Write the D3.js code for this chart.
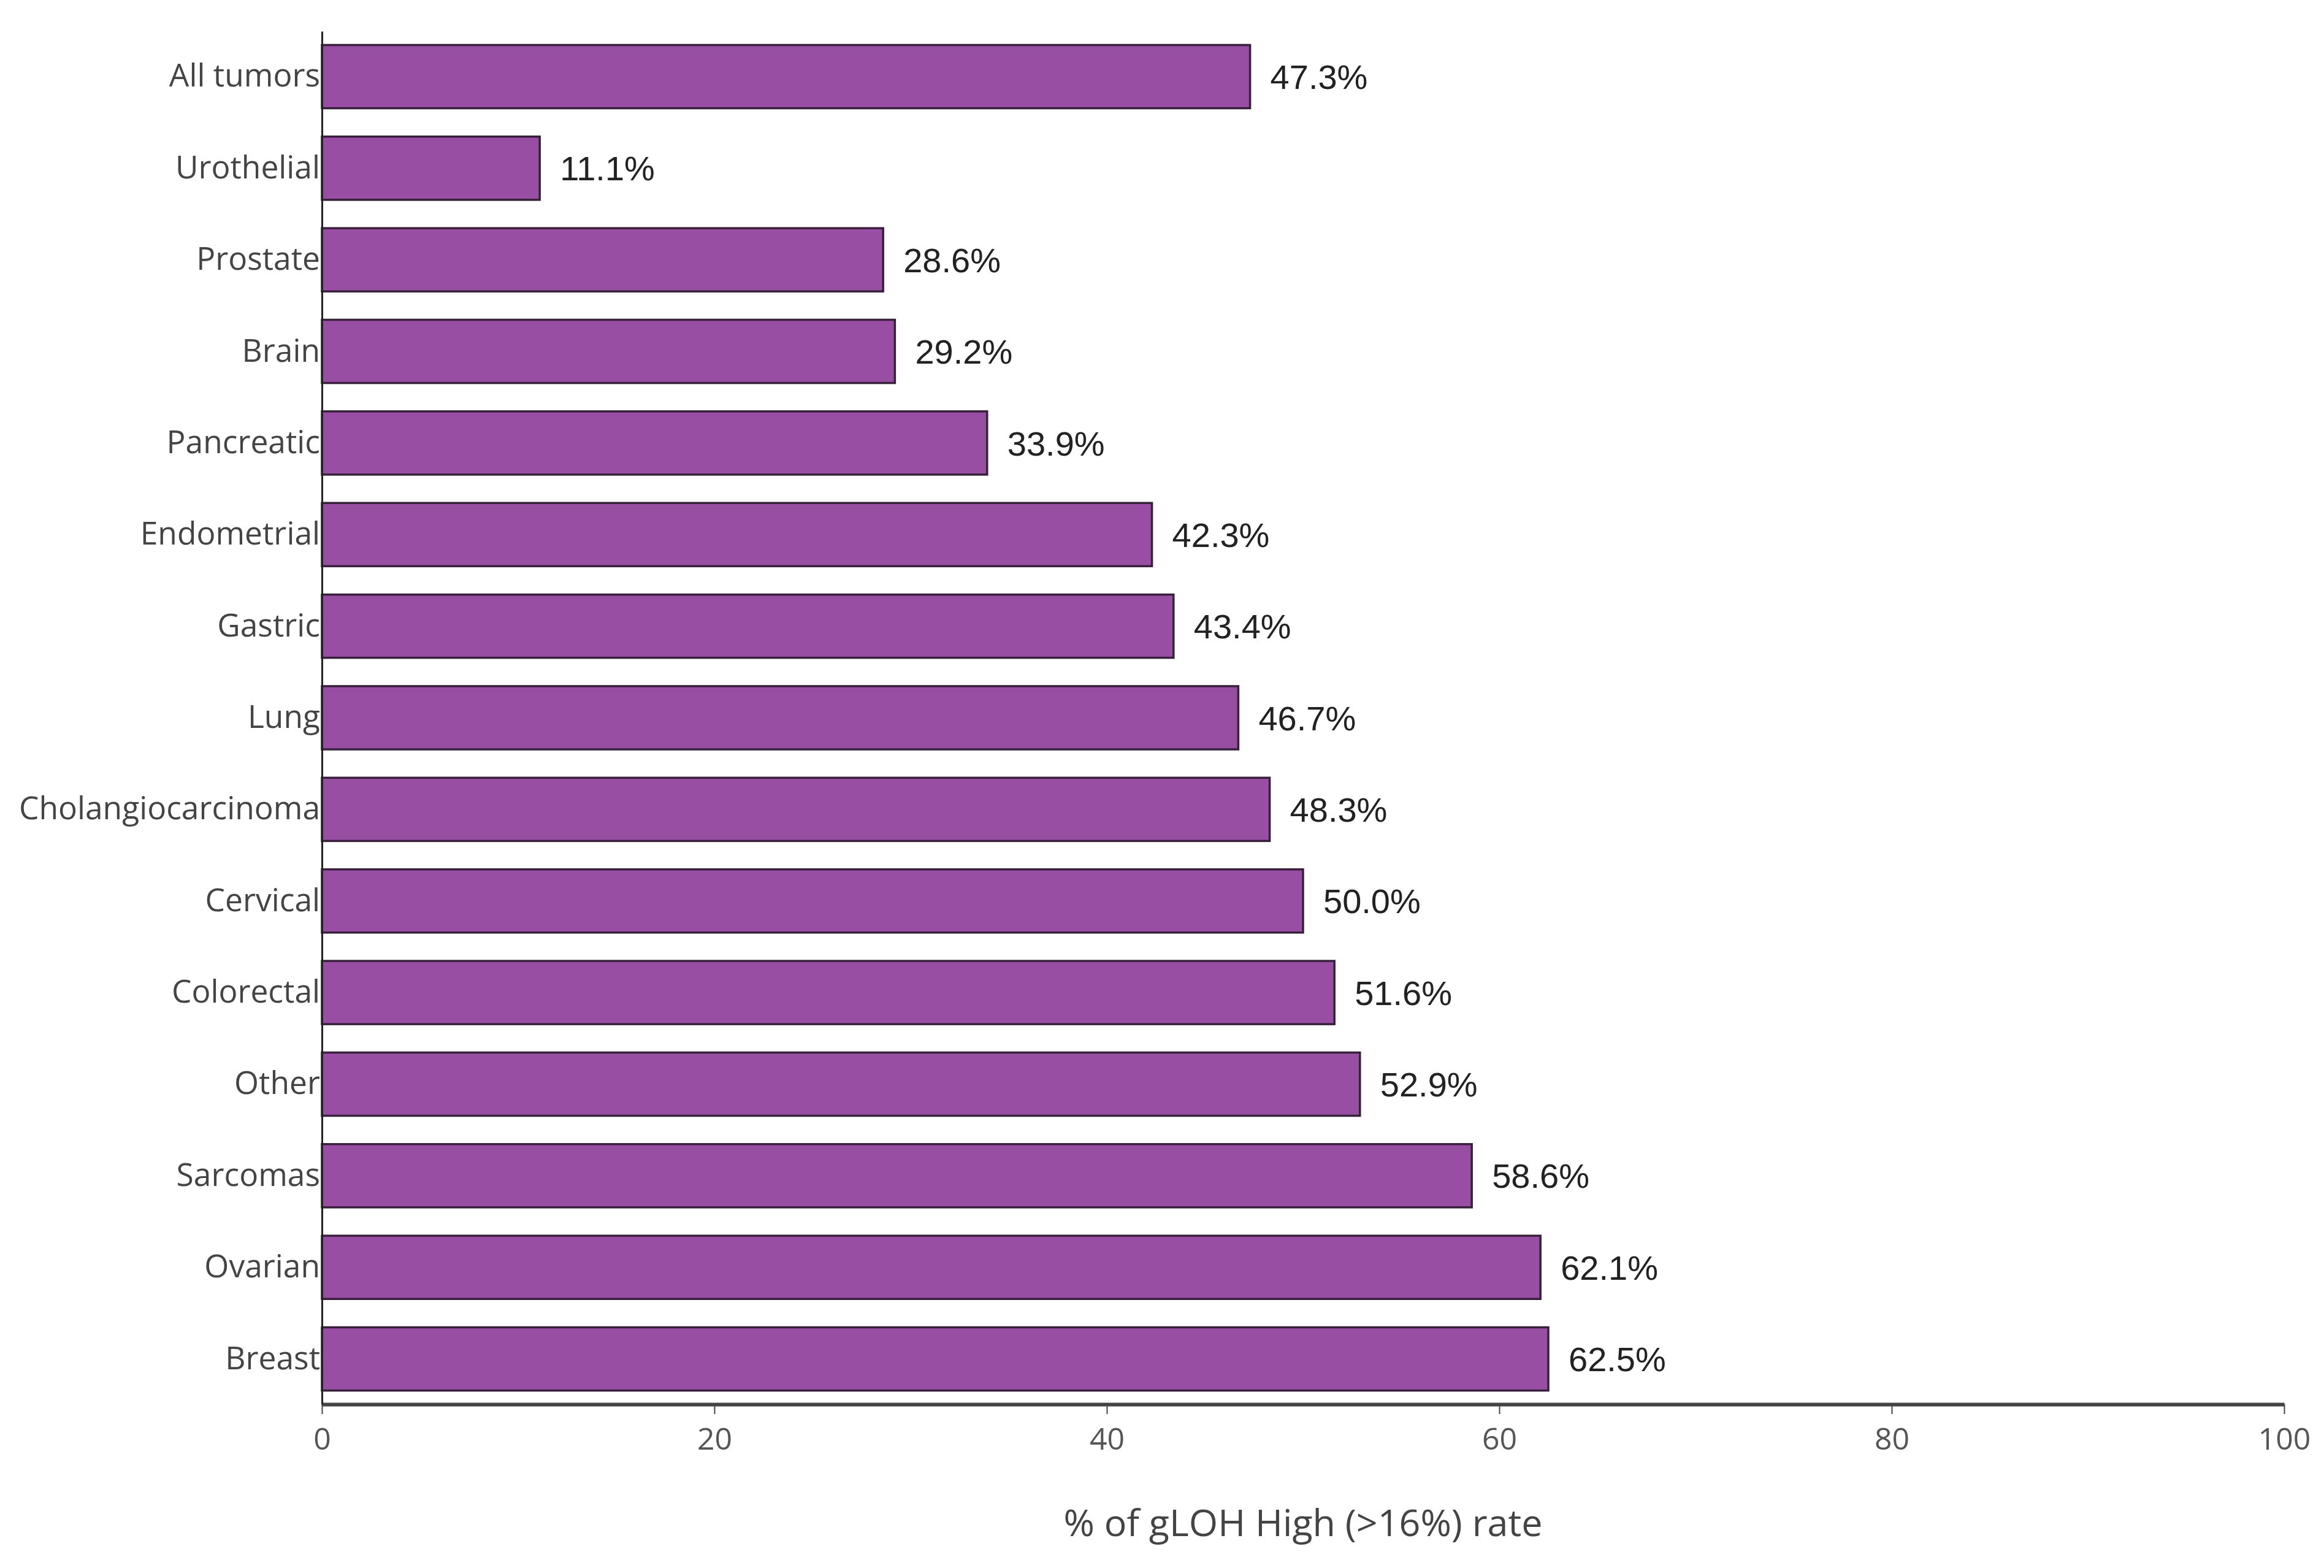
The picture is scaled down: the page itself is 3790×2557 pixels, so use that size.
<!DOCTYPE html>
<html>
<head>
<meta charset="utf-8">
<script src="https://cdn.jsdelivr.net/npm/d3@7"></script>
<style>
  body { margin: 0; background: #fff; }
</style>
</head>
<body>
<div id="chart"></div>
<script>
var categories = ["All tumors", "Urothelial", "Prostate", "Brain", "Pancreatic", "Endometrial",
                  "Gastric", "Lung", "Cholangiocarcinoma", "Cervical", "Colorectal", "Other",
                  "Sarcomas", "Ovarian", "Breast"];
var values = [47.3, 11.1, 28.6, 29.2, 33.9, 42.3, 43.4, 46.7, 48.3, 50.0, 51.6, 52.9, 58.6, 62.1, 62.5];
var xTicks = [0, 20, 40, 60, 80, 100];
var xTitle = "% of gLOH High (>16%) rate";

var W = 3790, H = 2557;
var margin = { top: 51, right: 65, bottom: 267, left: 525 };
var width = W - margin.left - margin.right,
    height = H - margin.top - margin.bottom;

var svg = d3.select('#chart').append('svg')
    .attr('width', W)
    .attr('height', H)
  .append('g')
    .attr('transform', 'translate(' + margin.left + ',' + margin.top + ')');

var x = d3.scaleLinear().domain([0, 100]).range([0, width]);
var y = d3.scaleBand().domain(categories).range([0, height])
    .paddingInner(0.31).paddingOuter(0.15);

// bars
svg.selectAll("rect.bar")
  .data(categories)
  .join("rect")
    .attr("class", "bar")
    .attr("x", 0)
    .attr("y", function(d) { return y(d) })
    .attr("width", function(d, i) { return x(values[i]) })
    .attr("height", y.bandwidth())
    .style("fill", "#984ea3")
    .style("stroke", "#38203c")
    .style("stroke-width", 3.5);

// value labels
svg.selectAll("text.val")
  .data(categories)
  .join("text")
    .attr("class", "val")
    .attr("x", function(d, i) { return x(values[i]) + 33 })
    .attr("y", function(d) { return y(d) + y.bandwidth() / 2 })
    .attr("dy", "0.36em")
    .style("font-family", "'Liberation Sans', Arial, sans-serif")
    .style("font-size", "56px")
    .style("fill", "#222")
    .text(function(d, i) { return values[i].toFixed(1) + "%" });

// x axis
var xAxis = svg.append("g")
    .attr("transform", `translate(0, ${height})`)
    .call(d3.axisBottom(x).tickValues(xTicks).tickSize(16).tickPadding(22).tickSizeOuter(0));
xAxis.select(".domain").attr("stroke", "#444").attr("stroke-width", 6);
xAxis.selectAll(".tick line").attr("stroke", "#444").attr("stroke-width", 2);
xAxis.selectAll(".tick text")
    .style("font-family", "'Open Sans', sans-serif")
    .style("font-size", "50px")
    .style("fill", "#555");

// y axis
var yAxis = svg.append("g")
    .call(d3.axisLeft(y).tickSize(0).tickPadding(3));
yAxis.select(".domain").attr("stroke", "#222").attr("stroke-width", 3);
yAxis.selectAll(".tick text")
    .style("font-family", "'Open Sans', sans-serif")
    .style("font-size", "51.5px")
    .style("fill", "#444");

svg.append("text")
    .attr("x", width / 2)
    .attr("y", 2505 - margin.top)
    .attr("text-anchor", "middle")
    .style("font-family", "'Open Sans', sans-serif")
    .style("font-size", "61px")
    .style("fill", "#444")
    .text(xTitle);
</script>
</body>
</html>
